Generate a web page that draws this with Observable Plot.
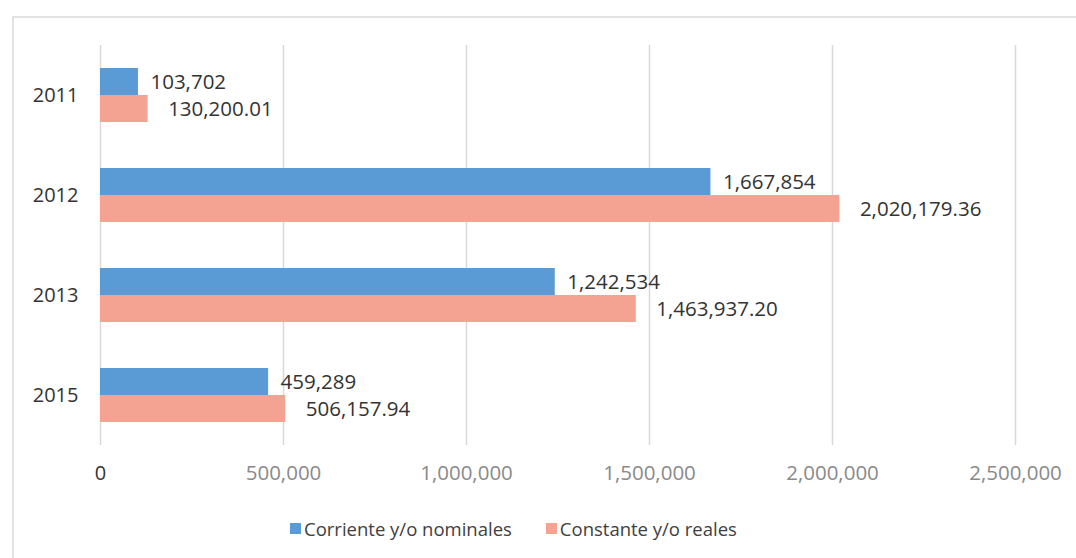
<!DOCTYPE html>
<html>
<head>
<meta charset="utf-8">
<script src="https://cdn.jsdelivr.net/npm/d3@7"></script>
<script src="https://cdn.jsdelivr.net/npm/@observablehq/plot@0.6"></script>
<style>
  html, body { margin: 0; padding: 0; background: #fff; }
  body { width: 1076px; height: 558px; position: relative; overflow: hidden; font-family: "Open Sans", sans-serif; }
  #frame { position: absolute; left: 12px; top: 16px; width: 1100px; height: 600px; border-left: 2px solid #e2e2e2; border-top: 2px solid #e2e2e2; }
  #chart { position: absolute; left: 0; top: 0; }
  #legend { position: absolute; left: 290px; top: 516px; display: flex; align-items: center; font-size: 18.5px; color: #404040; white-space: nowrap; }
  .item { display: flex; align-items: center; margin-right: 34px; }
  .sw { width: 11px; height: 11px; margin-right: 3px; }
</style>
</head>
<body>
<div id="frame"></div>
<div id="chart"></div>
<div id="legend"></div>
<script>
const years = ["2011", "2012", "2013", "2015"];
const series = ["Corriente y/o nominales", "Constante y/o reales"];
const nominal = [103702, 1667854, 1242534, 459289];
const real = [130200.01, 2020179.36, 1463937.20, 506157.94];
const xTicks = [0, 500000, 1000000, 1500000, 2000000, 2500000];
const colors = ["#5B9BD5", "#F4A292"];

const fmtInt = d3.format(",");
const fmtDec = d3.format(",.2f");

const nominalData = years.map((y, i) => ({year: y, series: series[0], value: nominal[i], label: fmtInt(nominal[i])}));
const realData = years.map((y, i) => ({year: y, series: series[1], value: real[i], label: fmtDec(real[i])}));
const data = nominalData.concat(realData);

const chart = Plot.plot({
  width: 1076,
  height: 500,
  marginLeft: 100,
  marginRight: 61,
  marginTop: 45,
  marginBottom: 55,
  style: {fontFamily: "Open Sans, sans-serif", background: "transparent"},
  x: {domain: [0, 2500000]},
  y: {domain: series, axis: null, paddingInner: 0, paddingOuter: 0.786},
  fy: {domain: years, padding: 0, label: null, axis: null},
  color: {domain: series, range: colors},
  marks: [
    Plot.ruleX(xTicks, {stroke: "#d9d9d9", strokeWidth: 1.5}),
    Plot.barX(data, {x: "value", y: "series", fy: "year", fill: "series"}),
    Plot.text(nominalData, {x: "value", y: "series", fy: "year", text: "label", textAnchor: "start", dx: 12, fill: "#333", fontSize: 20.5}),
    Plot.text(realData, {x: "value", y: "series", fy: "year", text: "label", textAnchor: "start", dx: 20, fill: "#333", fontSize: 20.5}),
    Plot.axisX({ticks: [0], tickSize: 0, tickPadding: 20, fontSize: 20, fill: "#333", tickFormat: d3.format(","), label: null}),
    Plot.axisX({ticks: xTicks.slice(1), tickSize: 0, tickPadding: 20, fontSize: 20.5, fill: "#8a8a8a", tickFormat: d3.format(","), label: null}),
    Plot.axisFy({anchor: "left", tickSize: 0, tickPadding: 22, fontSize: 20, fill: "#333", label: null})
  ]
});
document.getElementById("chart").appendChild(chart);

const legend = document.getElementById("legend");
series.forEach((s, i) => {
  const item = document.createElement("div");
  item.className = "item";
  const sw = document.createElement("div");
  sw.className = "sw";
  sw.style.background = colors[i];
  const t = document.createElement("span");
  t.textContent = s;
  item.appendChild(sw);
  item.appendChild(t);
  legend.appendChild(item);
});
</script>
</body>
</html>
